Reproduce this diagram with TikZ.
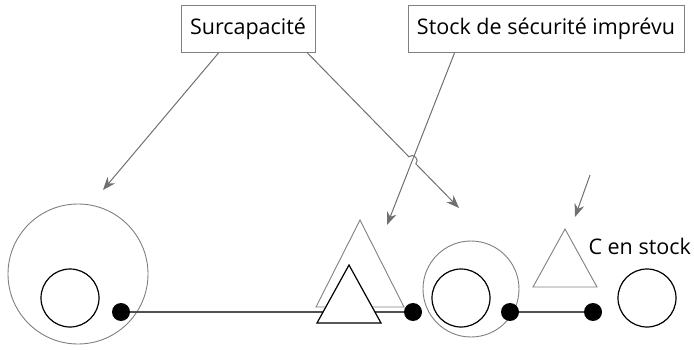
\documentclass[tikz,border=0pt]{standalone}
\usepackage{fontspec}
\setmainfont{Open Sans}
\usetikzlibrary{arrows.meta, calc}

\definecolor{ringgray}{HTML}{808080}
\definecolor{arrowgray}{HTML}{707070}
\definecolor{linkgray}{HTML}{505050}

\begin{document}
\begin{tikzpicture}[x=1pt,y=-1pt,>={Stealth[length=13pt,width=10pt]},
  labelbox/.style={draw=ringgray,line width=0.9pt,minimum height=47pt,
    inner xsep=9pt,font=\fontsize{21.5}{25}\selectfont},
  ring/.style={circle,draw=ringgray,line width=0.9pt,inner sep=0pt,minimum size=#1},
  stockring/.style={circle,draw=black,line width=1.2pt,inner sep=0pt,minimum size=58pt},
  dot/.style={circle,fill=black,inner sep=0pt,minimum size=18pt},
  pointer/.style={->,draw=arrowgray,line width=1pt},
  link/.style={draw=linkgray,line width=1.8pt}]
  \useasboundingbox (0,0) rectangle (694,350);
  \node[labelbox] (sur) at (248,29) {Surcapacité};
  \node[labelbox] (secu) at (546,29) {Stock de sécurité imprévu};
  \node[ring=140pt] (bigring) at (78,274) {};
  \node[ring=96pt] (midring) at (471,289) {};
  \node[stockring] (st1) at (70,298) {};
  \node[stockring] (st2) at (461,298) {};
  \node[stockring] (st3) at (647,298) {};
  \node[dot] (d1) at (121,312) {};
  \node[dot] (d2) at (413,312) {};
  \node[dot] (d3) at (510,312) {};
  \node[dot] (d4) at (593,312) {};
  \draw[link](d1)--(d2);
  \draw[link](d3)--(d4);
  \draw[ringgray,line width=0.9pt,fill=white](360,220)--(316,307)--(404,307)--cycle;
  \draw[black,line width=1.2pt,fill=white](349,265)--(317,323)--(381,323)--cycle;
  \draw[ringgray,line width=0.9pt,fill=white](565,229)--(533,287)--(597,287)--cycle;
  \node[anchor=west,font=\fontsize{21.5}{25}\selectfont] (cst) at (585,246) {C en stock};
  \coordinate (s1) at ([xshift=38pt]sur.south west);
  \coordinate (s2) at ([xshift=-8pt]sur.south east);
  \coordinate (s3) at ([xshift=47pt]secu.south west);
  \coordinate (s4) at (590,175);
  \coordinate (t1) at (103,190);
  \coordinate (t2) at (459,208);
  \coordinate (t3) at (387,225);
  \coordinate (t4) at (575,217);
  \coordinate (x) at (intersection of s2--t2 and s3--t3);
  \coordinate (j1) at ($(x)!5pt!(s2)$);
  \coordinate (j2) at ($(x)!5pt!(t2)$);
  \draw[pointer](s1)--(t1);
  \draw[pointer](s2)--(j1)
    .. controls ($(j1)!6pt!90:(x)$) and ($(j2)!6pt!-90:(x)$) .. (j2)--(t2);
  \draw[pointer](s3)--(t3);
  \draw[pointer](s4)--(t4);
\end{tikzpicture}
\end{document}
